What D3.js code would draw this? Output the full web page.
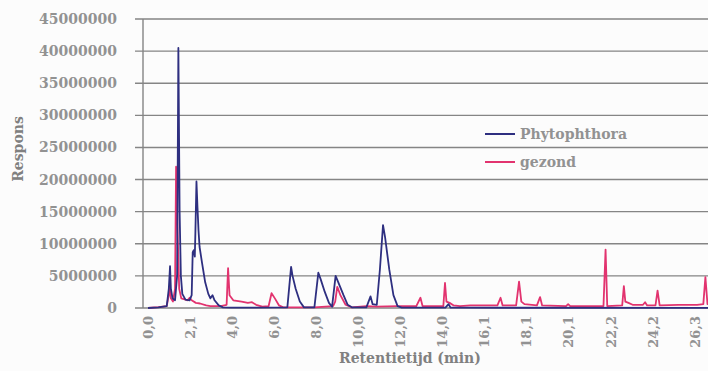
<!DOCTYPE html>
<html><head><meta charset="utf-8">
<script src="https://cdn.jsdelivr.net/npm/d3@7"></script>
<style>
html,body{margin:0;padding:0;background:#fcfcfc;}
svg{display:block;}
text{font-family:"DejaVu Serif",serif;fill:#929292;font-weight:bold;}
</style></head>
<body>
<svg id="chart" width="708" height="371"></svg>
<script>
// Values in millions of response units; time in minutes
const phytoTime = [0,0.5,0.9,1.0,1.06,1.1,1.18,1.3,1.4,1.46,1.52,1.58,1.65,1.8,2.0,2.1,2.15,2.2,2.25,2.28,2.33,2.38,2.43,2.48,2.6,2.75,2.9,3.0,3.1,3.2,3.4,3.6,4.0,6.7,6.88,6.95,7.1,7.3,7.5,8.0,8.19,8.3,8.5,8.7,8.85,9.02,9.15,9.4,9.6,9.8,10.5,10.7,10.8,11.0,11.15,11.3,11.4,11.6,11.8,12.0,12.2,14.3,14.45,14.55,28];
const phytoValues = [0,0.1,0.3,3,6.5,3,1.5,1.2,5,40.5,15,5,2.2,1.3,1.2,2,8.7,9,8,12,19.7,15.6,12,9.5,7,4,2.2,1.5,2,1.2,0.4,0.1,0.05,0.1,6.4,5.0,3,1,0.1,0.1,5.5,4.5,2.5,0.8,0.2,5,4,2,0.5,0.1,0.1,1.8,0.6,0.5,6,12.9,11,6,2,0.3,0.05,0.05,0.6,0.05,0];
const gezondTime = [0,0.5,0.9,1.0,1.04,1.1,1.2,1.3,1.35,1.42,1.5,1.6,1.8,1.9,2.0,2.1,2.3,2.5,2.8,3.0,3.5,3.78,3.85,3.92,4.1,4.5,4.8,5.0,5.2,5.5,5.8,5.94,6.1,6.3,6.5,7.0,8.0,8.9,9.0,9.1,9.25,9.5,9.8,10.5,11.0,12.0,12.9,13.1,13.2,14.2,14.28,14.35,14.5,14.7,15,15.5,16.8,16.95,17.05,17.7,17.84,17.95,18.1,18.7,18.85,18.95,20.1,20.2,20.3,21.9,22.0,22.08,22.8,22.88,22.95,23.1,23.3,23.8,23.9,24.0,24.4,24.5,24.6,25.5,26.4,26.7,26.8,26.9,28];
const gezondValues = [0,0.15,0.3,2,3.3,1.5,1.0,3,22,12,3,1.5,1.3,1.2,1.6,1.2,0.8,0.7,0.4,0.3,0.3,0.5,6.2,2,1.2,1.0,0.8,0.9,0.5,0.2,0.3,2.3,1.5,0.4,0.1,0.1,0.1,0.3,1,3.3,2,0.5,0.1,0.3,0.2,0.3,0.3,1.6,0.3,0.3,3.9,1,0.8,0.4,0.3,0.4,0.4,1.6,0.4,0.4,4.1,1,0.6,0.4,1.7,0.4,0.3,0.6,0.3,0.3,9.1,0.3,0.4,3.4,1.0,0.8,0.5,0.5,0.9,0.4,0.4,2.7,0.4,0.5,0.5,0.6,4.8,0.6,0.5];
const xTickLabels = ["0,0","2,1","4,0","6,0","8,0","10,0","12,0","14,0","16,1","18,1","20,1","22,2","24,2","26,3"];
const yTicks = [0,5,10,15,20,25,30,35,40,45];
const seriesNames = ["Phytophthora","gezond"];
const seriesColors = ["#2e2f80","#e2336f"];

const svg = d3.select("#chart");
const axisX = 143, plotTop = 19, plotBottom = 308;
const x = d3.scaleLinear().domain([0, 26.3]).range([148, 695]);
const y = d3.scaleLinear().domain([0, 45]).range([plotBottom, plotTop]);
const labelStep = 26.3 / (xTickLabels.length - 1);

// gridlines
svg.append("g").selectAll("line").data(yTicks).join("line")
  .attr("x1", 135).attr("x2", 708)
  .attr("y1", d => y(d)).attr("y2", d => y(d))
  .attr("stroke", "#858585").attr("stroke-width", 1.4);

// vertical axis line
svg.append("line").attr("x1", axisX).attr("x2", axisX)
  .attr("y1", plotTop).attr("y2", plotBottom)
  .attr("stroke", "#858585").attr("stroke-width", 1.4);

// y tick labels
svg.append("g").selectAll("text").data(yTicks).join("text")
  .attr("x", 117).attr("y", d => y(d)).attr("dy", "0.36em")
  .attr("text-anchor", "end").style("font-size", "14px")
  .text(d => String(d * 1000000));

// x tick labels (rotated)
svg.append("g").selectAll("text").data(xTickLabels).join("text")
  .attr("transform", (d, i) => `translate(${x(i * labelStep)},316) rotate(-90)`)
  .attr("text-anchor", "end").attr("dy", "0.36em")
  .style("font-size", "13px")
  .text(d => d);

// axis titles
svg.append("text").attr("x", 410).attr("y", 363).attr("text-anchor", "middle")
  .style("font-size", "14px").style("fill", "#808080").text("Retentietijd (min)");
svg.append("text").attr("transform", "translate(23,149) rotate(-90)")
  .attr("text-anchor", "middle").style("font-size", "14px").style("fill", "#808080").text("Respons");

// series
const line = d3.line().x(d => x(d[0])).y(d => y(d[1]));
const series = [
  phytoTime.map((t, i) => [t, phytoValues[i]]),
  gezondTime.map((t, i) => [t, gezondValues[i]])
];
svg.append("path").datum(series[1]).attr("d", line).attr("fill", "none")
  .attr("stroke", seriesColors[1]).attr("stroke-width", 1.8).attr("stroke-linejoin", "round");
svg.append("path").datum(series[0]).attr("d", line).attr("fill", "none")
  .attr("stroke", seriesColors[0]).attr("stroke-width", 1.8).attr("stroke-linejoin", "round");

// legend
const leg = svg.append("g");
seriesNames.forEach((n, i) => {
  const ly = 134 + i * 28;
  leg.append("line").attr("x1", 485).attr("x2", 515).attr("y1", ly).attr("y2", ly)
    .attr("stroke", seriesColors[i]).attr("stroke-width", 2);
  leg.append("text").attr("x", 520).attr("y", ly).attr("dy", "0.33em")
    .style("font-size", "14px").text(n);
});
</script>
</body></html>
